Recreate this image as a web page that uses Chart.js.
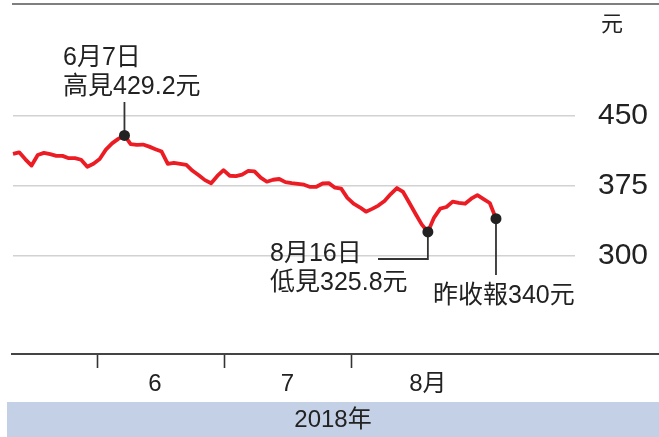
<!DOCTYPE html>
<html>
<head>
<meta charset="utf-8">
<script src="https://cdn.jsdelivr.net/npm/chart.js@4"></script>
<style>
  html, body { margin: 0; padding: 0; background: #fff; }
  #wrap { width: 659px; height: 437px; }
</style>
</head>
<body>
<div id="wrap"><canvas id="myChart" width="659" height="437"></canvas></div>
<script>
'use strict';

// daily close (元), one value per trading day, mid-May to end of Aug 2018
let prices = [
    409.5, 411.1, 403.6, 396.9, 408.2, 410.5, 409.2, 407.3, 407.3, 404.8,
    404.9, 403.1, 395.6, 398.9, 403.9, 414.0, 420.7, 425.5, 429.2, 419.8,
    419.1, 419.4, 417.2, 414.5, 411.9, 398.8, 399.9, 398.8, 397.7, 391.3,
    386.5, 381.3, 378.0, 385.8, 392.0, 386.0, 385.5, 387.1, 391.1, 390.7,
    384.0, 379.6, 381.7, 382.5, 379.1, 378.0, 377.3, 376.4, 374.0, 374.2,
    377.7, 378.1, 373.2, 372.2, 362.3, 356.1, 352.2, 347.5, 350.5, 354.0,
    359.0, 366.4, 372.8, 368.6, 357.0, 345.3, 333.9, 325.8, 341.2, 350.8,
    352.5, 358.2, 356.9, 356.0, 361.4, 365.3, 361.0, 356.8, 340.0
];
let yTicks = [300, 375, 450];
let monthTicks = [13.7, 34.1, 54.7];      // month boundaries, in trading-day index
let monthLabelPos = [22.9, 44.3, 67];
let monthLabels = ['6', '7', '8月'];
let hiIdx = 18, loIdx = 67, lastIdx = 78;
let hiText = ['6月7日', '高見429.2元'];
let loText = ['8月16日', '低見325.8元'];
let lastText = '昨收報340元';
let yearText = '2018年';
let unitText = '元';

const FONT = '"Liberation Sans", "Noto Sans CJK TC", sans-serif';
const INK = '#222';

let decor = {
    id: 'decor',
    beforeDatasetsDraw(chart) {
        let ctx = chart.ctx;
        let xs = chart.scales.x;
        let ys = chart.scales.y;
        let px = i => xs.getPixelForValue(i);
        let py = i => ys.getPixelForValue(prices[i]);
        ctx.save();
        ctx.strokeStyle = '#333';
        ctx.lineWidth = 1.8;
        ctx.beginPath();
        ctx.moveTo(px(hiIdx), py(hiIdx));
        ctx.lineTo(px(hiIdx), 102);
        ctx.moveTo(px(loIdx), py(loIdx));
        ctx.lineTo(px(loIdx), 259);
        ctx.lineTo(378, 259);
        ctx.moveTo(px(lastIdx), py(lastIdx));
        ctx.lineTo(px(lastIdx), 275);
        ctx.stroke();
        ctx.restore();
    },
    afterDraw(chart) {
        let ctx = chart.ctx;
        ctx.save();
        // top rule
        ctx.strokeStyle = '#555';
        ctx.lineWidth = 1.5;
        ctx.beginPath();
        ctx.moveTo(12, 4);
        ctx.lineTo(659, 4);
        ctx.stroke();
        // x axis line
        ctx.strokeStyle = '#444';
        ctx.lineWidth = 2;
        ctx.beginPath();
        ctx.moveTo(11, chart.chartArea.bottom);
        ctx.lineTo(659, chart.chartArea.bottom);
        ctx.stroke();
        // year band
        ctx.fillStyle = '#c3d0e5';
        ctx.fillRect(7, 402, 652, 35);

        ctx.fillStyle = INK;
        ctx.textBaseline = 'middle';
        ctx.textAlign = 'center';
        ctx.font = '24px ' + FONT;
        ctx.fillText(yearText, 333, 420);
        ctx.font = '22px ' + FONT;
        ctx.fillText(unitText, 612, 25);

        ctx.textAlign = 'left';
        ctx.font = '25px ' + FONT;
        ctx.fillText(hiText[0], 63, 58);
        ctx.fillText(hiText[1], 63, 87);
        ctx.fillText(loText[0], 270, 254);
        ctx.fillText(loText[1], 270, 283);
        ctx.fillText(lastText, 433, 296);
        ctx.restore();
    }
};

let ctx = document.getElementById('myChart').getContext('2d');
new Chart(ctx, {
    type: 'line',
    data: {
        datasets: [{
            data: prices.map((v, i) => ({ x: i, y: v })),
            borderColor: '#ec1c24',
            borderWidth: 3.8,
            borderJoinStyle: 'round',
            tension: 0,
            pointRadius: c => [hiIdx, loIdx, lastIdx].includes(c.dataIndex) ? 5.5 : 0,
            pointHoverRadius: c => [hiIdx, loIdx, lastIdx].includes(c.dataIndex) ? 5.5 : 0,
            pointBackgroundColor: '#222',
            pointBorderWidth: 0,
            clip: false
        }]
    },
    options: {
        responsive: false,
        animation: false,
        devicePixelRatio: 1,
        layout: { padding: { left: 13, top: 4, right: 0, bottom: 0 } },
        plugins: { legend: { display: false }, tooltip: { enabled: false } },
        scales: {
            x: {
                type: 'linear',
                min: 0,
                max: 90.76,
                afterBuildTicks: s => {
                    s.ticks = monthTicks.concat(monthLabelPos).sort((a, b) => a - b).map(v => ({ value: v }));
                },
                afterFit: s => {
                    s.height = 83;
                    s.paddingLeft = 0;
                    s.paddingRight = 0;
                },
                border: { display: false },
                grid: {
                    drawOnChartArea: false,
                    drawTicks: true,
                    tickLength: 14,
                    tickWidth: 1.6,
                    tickColor: c => monthTicks.includes(c.tick.value) ? '#333' : 'rgba(0,0,0,0)'
                },
                ticks: {
                    autoSkip: false,
                    maxRotation: 0,
                    padding: 2,
                    color: INK,
                    font: { family: FONT, size: 24 },
                    callback: v => {
                        let k = monthLabelPos.indexOf(v);
                        return k >= 0 ? monthLabels[k] : '';
                    }
                }
            },
            y: {
                position: 'right',
                min: 195,
                max: 568.4,
                afterBuildTicks: s => { s.ticks = yTicks.map(v => ({ value: v })); },
                afterFit: s => {
                    s.width = 84;
                    s.paddingTop = 0;
                    s.paddingBottom = 0;
                },
                border: { display: false },
                grid: { color: '#d2d2d2', lineWidth: 1.5, drawTicks: false },
                ticks: {
                    padding: 23,
                    color: INK,
                    font: { family: FONT, size: 30 },
                    callback: v => String(v)
                }
            }
        }
    },
    plugins: [decor]
});
</script>
</body>
</html>
